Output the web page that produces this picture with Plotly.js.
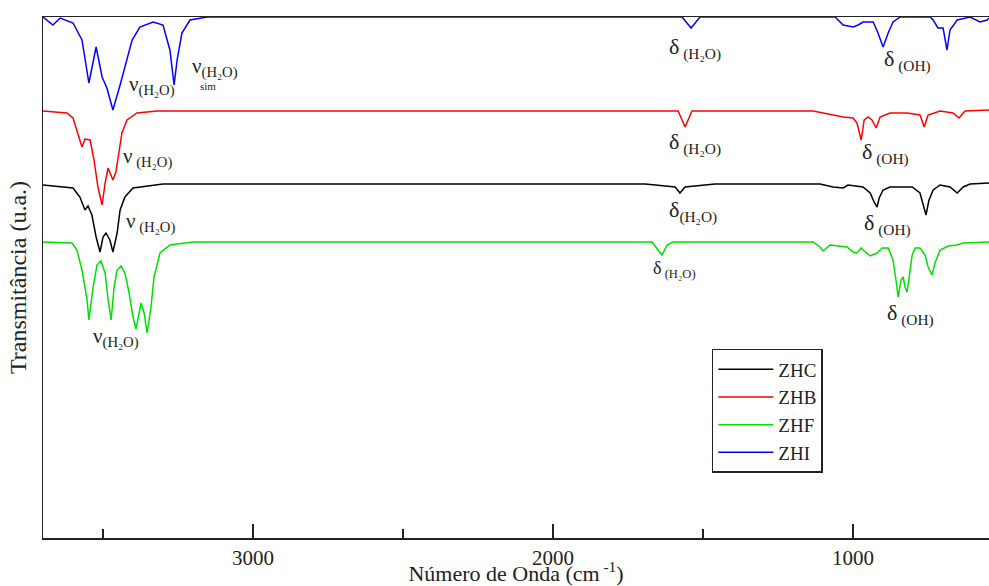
<!DOCTYPE html>
<html>
<head>
<meta charset="utf-8">
<script src="https://cdn.plot.ly/plotly-3.0.1.min.js"></script>
<style>
html,body{margin:0;padding:0;background:#fff;}
#chart{width:989px;height:586px;}
#chart text{font-family:"Liberation Serif","Times New Roman",serif !important;}
</style>
</head>
<body>
<div id="chart"></div>
<script>
// Wavenumbers (cm-1) and transmittance (u.a., offset)
const zhiX = [3700,3667,3643,3600,3570,3547,3523,3503,3487,3467,3443,3420,3403,3377,3333,3300,3277,3263,3253,3237,3210,3153,1570,1540,1510,1060,1033,1000,983,967,933,917,900,883,867,843,743,733,717,700,687,677,653,610,577,553,547];
const zhiY = [523,515,522,517,500,457,493,463,452,430,455,480,500,513,518,515,490,455,480,507,520,523,523,512,523,523,515,513,515,518,518,507,493,507,518,523,523,520,512,512,490,510,520,523,518,520,522];

const zhbX = [3700,3620,3600,3587,3570,3560,3543,3530,3517,3503,3493,3483,3467,3457,3447,3437,3420,3387,3320,1583,1560,1537,1133,1033,1000,987,973,963,950,937,923,910,877,820,777,763,750,710,667,647,627,547];
const zhbY = [429,427,422,410,393,401,400,380,353,335,357,372,360,368,387,407,420,427,429,429,413,429,429,423,422,417,400,420,423,420,412,423,427,427,425,413,425,429,427,422,429,430];

const zhcX = [3700,3600,3577,3560,3550,3537,3523,3510,3500,3490,3477,3467,3453,3443,3427,3400,3300,1693,1593,1577,1560,1460,1110,1067,1033,1017,967,943,930,920,913,900,877,803,777,763,757,747,733,710,677,653,633,610,547];
const zhcY = [355,352,343,330,334,325,303,288,303,307,300,288,307,330,343,352,356,356,353,347,353,356,356,353,352,355,353,347,338,333,342,350,353,353,347,330,325,340,350,355,353,347,353,356,357];

const zhfX = [3700,3603,3587,3570,3553,3547,3533,3520,3507,3493,3483,3473,3463,3453,3440,3427,3413,3400,3390,3380,3373,3363,3353,3340,3330,3310,3277,3200,1670,1650,1637,1620,1600,1133,1110,1100,1077,1020,1000,987,973,967,953,943,920,903,883,867,857,850,840,833,827,820,813,803,793,777,760,750,737,727,710,683,653,633,547];
const zhfY = [298,297,290,270,240,220,253,275,279,267,240,220,253,270,274,267,247,223,211,227,237,227,207,233,263,287,295,298,298,290,285,295,298,298,293,289,295,293,288,287,292,290,287,284,287,292,292,280,260,243,260,263,253,248,263,285,292,292,285,273,265,277,290,294,295,297,298];

const names = ['ZHC','ZHB','ZHF','ZHI'];
const colors = ['#000000','#ff0000','#00e000','#0000ff'];
const xs = [zhcX, zhbX, zhfX, zhiX];
const ys = [zhcY, zhbY, zhfY, zhiY];

const traces = names.map((n,i)=>({
  type:'scatter', mode:'lines', name:n, x:xs[i], y:ys[i],
  line:{color:colors[i], width:1.5}
}));

const serif = 'Liberation Serif';
const labs = [
  // [text, x(cm-1), y, size]
  ['ν<sub>(H₂O)</sub>', 3420, 455, 21],
  ['ν<sub>(H₂O)</sub>', 3210, 473, 21],
  ['sim', 3183, 454, 11],
  ['δ<sub> (H₂O)</sub>', 1620, 492, 22],
  ['δ<sub> (OH)</sub>', 902, 480, 22],
  ['ν<sub> (H₂O)</sub>', 3440, 383, 21],
  ['δ<sub> (H₂O)</sub>', 1620, 397, 22],
  ['δ<sub> (OH)</sub>', 977, 387, 22],
  ['ν<sub> (H₂O)</sub>', 3430, 318, 21],
  ['δ<sub>(H₂O)</sub>', 1620, 329, 22],
  ['δ<sub> (OH)</sub>', 970, 316, 22],
  ['ν<sub>(H₂O)</sub>', 3540, 203, 21],
  ['δ<sub> (H₂O)</sub>', 1673, 271, 18],
  ['δ<sub> (OH)</sub>', 893, 226, 22]
];
const annotations = labs.map(a=>({
  text:a[0], x:a[1], y:a[2], xref:'x', yref:'y', xanchor:'left', yanchor:'middle',
  showarrow:false, font:{family:serif, size:a[3], color:'#222'}
}));

const layout = {
  width:989, height:586,
  font:{family:serif, color:'#222'},
  margin:{l:43, r:0, t:17, b:48},
  paper_bgcolor:'#fff', plot_bgcolor:'#fff',
  showlegend:true,
  legend:{x:0.707, y:0.363, xanchor:'left', yanchor:'top', bgcolor:'#fff',
    bordercolor:'#222', borderwidth:1.5, font:{family:serif, size:19, color:'#222'},
    itemwidth:55, entrywidth:115, tracegroupgap:0},
  xaxis:{range:[3700,547], showgrid:false, zeroline:false, showline:true, linecolor:'#222', linewidth:1.5, mirror:true,
    ticks:'inside', ticklen:14, tickwidth:1.2, tickcolor:'#222', tickvals:[3000,2000,1000], ticktext:['3000','2000','1000'],
    minor:{ticks:'inside', ticklen:9, tickwidth:1.2, tickcolor:'#222', tickvals:[3500,2500,1500]},
    tickfont:{family:serif, size:21, color:'#222'},
    title:{text:'Número de Onda (cm<sup> -1</sup>)', font:{family:serif, size:22, color:'#222'}, standoff:1}},
  yaxis:{range:[2,523], showgrid:false, zeroline:false, showline:true, linecolor:'#222', linewidth:1.5,
    showticklabels:false, ticks:'',
    title:{text:'Transmitância (u.a.)', font:{family:serif, size:24, color:'#222'}, standoff:8}},
  annotations:annotations
};

Plotly.newPlot('chart', traces, layout, {displayModeBar:false, staticPlot:true});
</script>
</body>
</html>
